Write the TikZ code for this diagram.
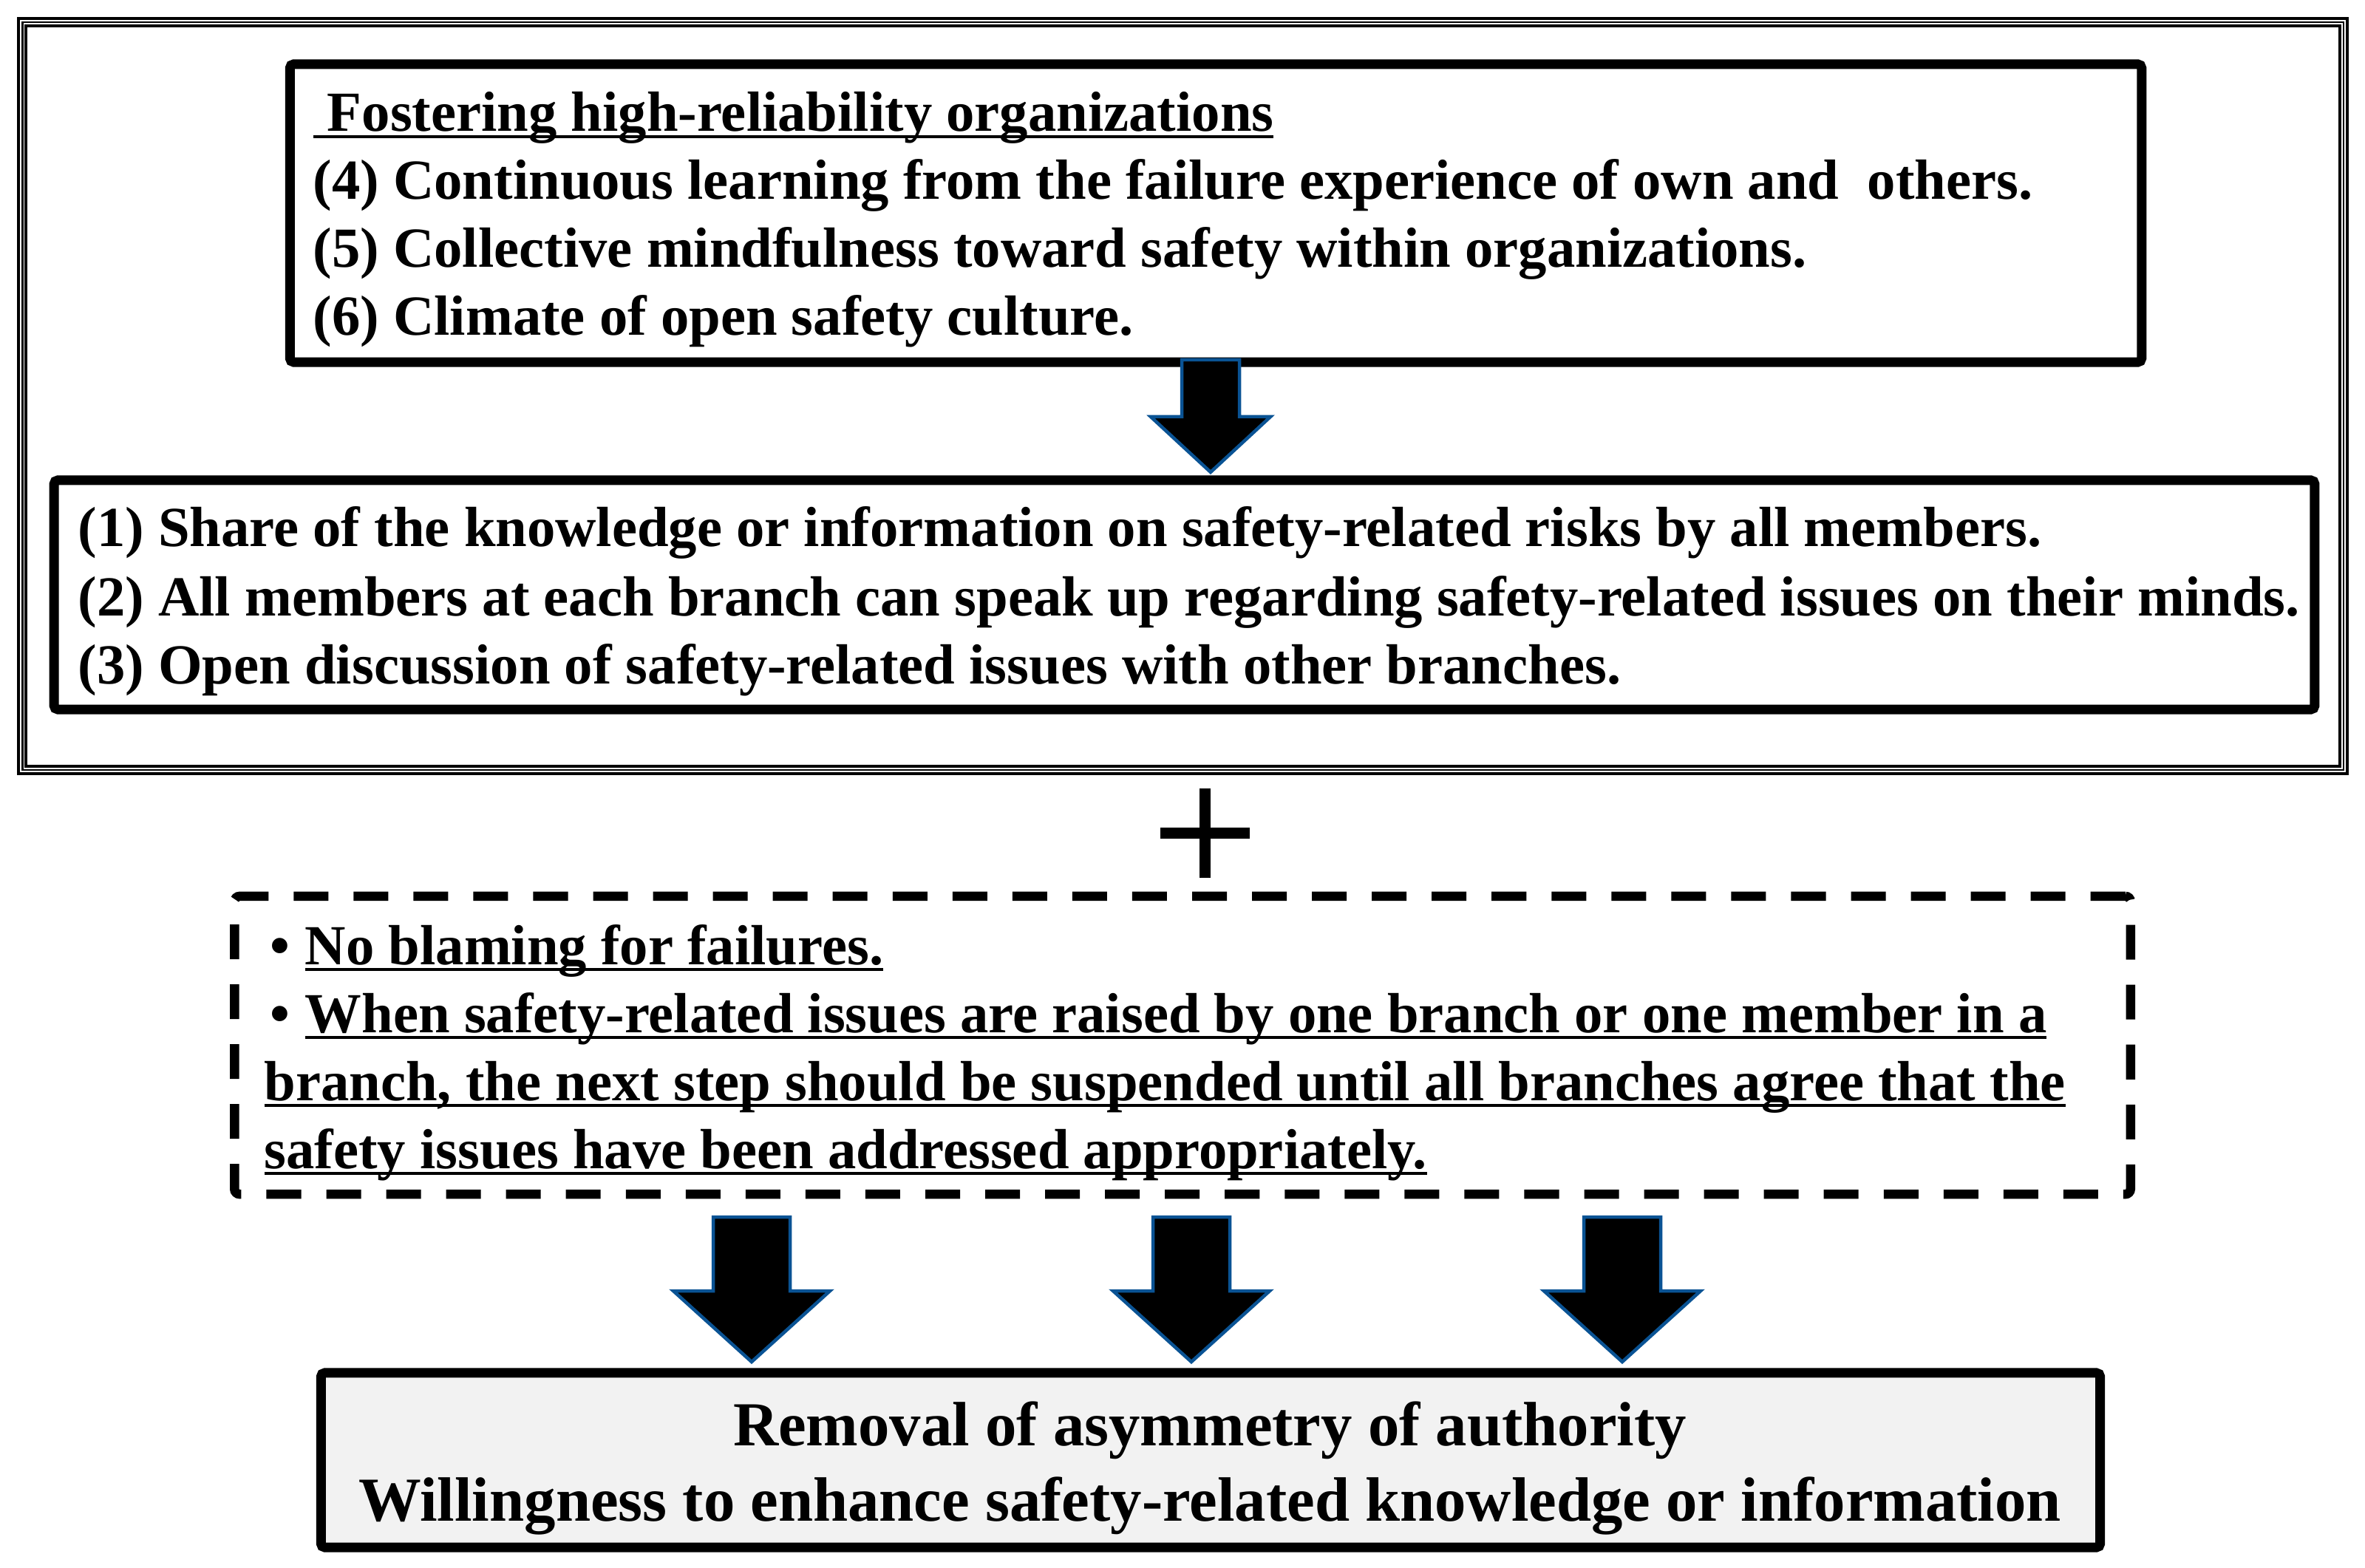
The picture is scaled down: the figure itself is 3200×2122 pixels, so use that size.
\documentclass[tikz,border=0pt]{standalone}
\usepackage{fontspec}
\setmainfont{Liberation Serif}
\usetikzlibrary{positioning,calc}
\definecolor{arrowblue}{RGB}{10,83,148}
\definecolor{resultgray}{RGB}{242,242,242}
\newcommand{\boxfont}{\fontsize{21.8}{26.2}\selectfont\bfseries}
\newcommand{\resultfont}{\fontsize{24.1}{29}\selectfont\bfseries}
\newsavebox{\ulbox}
\newcommand{\ulined}[1]{\sbox{\ulbox}{#1}\rlap{\rule[-0.12em]{\wd\ulbox}{0.055em}}\usebox{\ulbox}}
\newcommand{\dotmark}{\makebox[0.72em][l]{\hspace*{0.1em}\textbullet}}

\begin{document}
\begin{tikzpicture}[x=0.01cm, y=-0.01cm,
    box/.style={draw, line width=0.13cm, rounded corners=1.5pt, inner sep=0pt, fill=white},
    rulebox/.style={draw, line width=0.125cm, dash pattern=on 0.47cm off 0.34cm, rounded corners=2pt, inner sep=0pt},
    itemline/.style={anchor=base west, inner sep=0pt, font=\boxfont},
    resultline/.style={anchor=base, inner sep=0pt, font=\resultfont},
    fatarrow/.style={draw=arrowblue, fill=black, line width=0.045cm}]
    \useasboundingbox (0,0) rectangle (3200,2122);
    % outer frame
    \draw[line width=0.045cm] (25,25) rectangle (3176,1047);
    \draw[line width=0.02cm] (30.5,30.5) rectangle (3170.5,1041.5);
    \draw[line width=0.035cm] (35,35) rectangle (3166,1037);
    % boxes
    \node[box, minimum width=25.04cm, minimum height=4.03cm] (hro) at (1645,288.5) {};
    \node[box, minimum width=30.57cm, minimum height=3.10cm] (share) at (1602.5,805) {};
    \node[rulebox, minimum width=25.64cm, minimum height=4.03cm] (rules) at (1600,1414.5) {};
    \node[box, fill=resultgray, minimum width=24.06cm, minimum height=2.36cm] (result) at (1638,1976) {};
    % high-reliability box
    \foreach \yb/\t [count=\i] in {
        178/{\ulined{~Fostering high-reliability organizations}},
        270/{(4) Continuous learning from the failure experience of own and~ others.},
        362/{(5) Collective mindfulness toward safety within organizations.},
        454/{(6) Climate of open safety culture.}}
      \node[itemline] (hro-\i) at (423,\yb) {\t};
    % shared knowledge box
    \foreach \yb/\t [count=\i] in {
        740/{(1) Share of the knowledge or information on safety-related risks by all members.},
        833/{(2) All members at each branch can speak up regarding safety-related issues on their minds.},
        925/{(3) Open discussion of safety-related issues with other branches.}}
      \node[itemline] (share-\i) at (105,\yb) {\t};
    % rules box
    \node[itemline] (rules-1) at (357,1305) {\dotmark\ulined{No blaming for failures.}};
    \node[itemline] (rules-2) at (357,1397) {\dotmark\ulined{When safety-related issues are raised by one branch or one member in a}};
    \node[itemline] (rules-3) at (357,1489) {\ulined{branch, the next step should be suspended until all branches agree that the}};
    \node[itemline] (rules-4) at (357,1581) {\ulined{safety issues have been addressed appropriately.}};
    % result box
    \node[resultline] (result-1) at (1637,1956) {Removal of asymmetry of authority};
    \node[resultline] (result-2) at (1637,2058) {Willingness to enhance safety-related knowledge or information};
    % plus sign
    \coordinate (plus) at (1630.5,1127.5);
    \draw[line width=0.15cm] (1570,1127.5) -- (1691,1127.5) (1630.5,1067) -- (1630.5,1188);
    % block arrows
    \draw[fatarrow] (1599,487) -- (1677,487) -- (1677,564) -- (1719,564) -- (1638,639)
      -- (1557,564) -- (1599,564) -- cycle;
    \foreach \cx in {1017,1612,2195}
      \draw[fatarrow] (\cx-52,1647) -- (\cx+52,1647) -- (\cx+52,1747) -- (\cx+106,1747)
        -- (\cx,1843) -- (\cx-106,1747) -- (\cx-52,1747) -- cycle;
  \end{tikzpicture}
\end{document}
